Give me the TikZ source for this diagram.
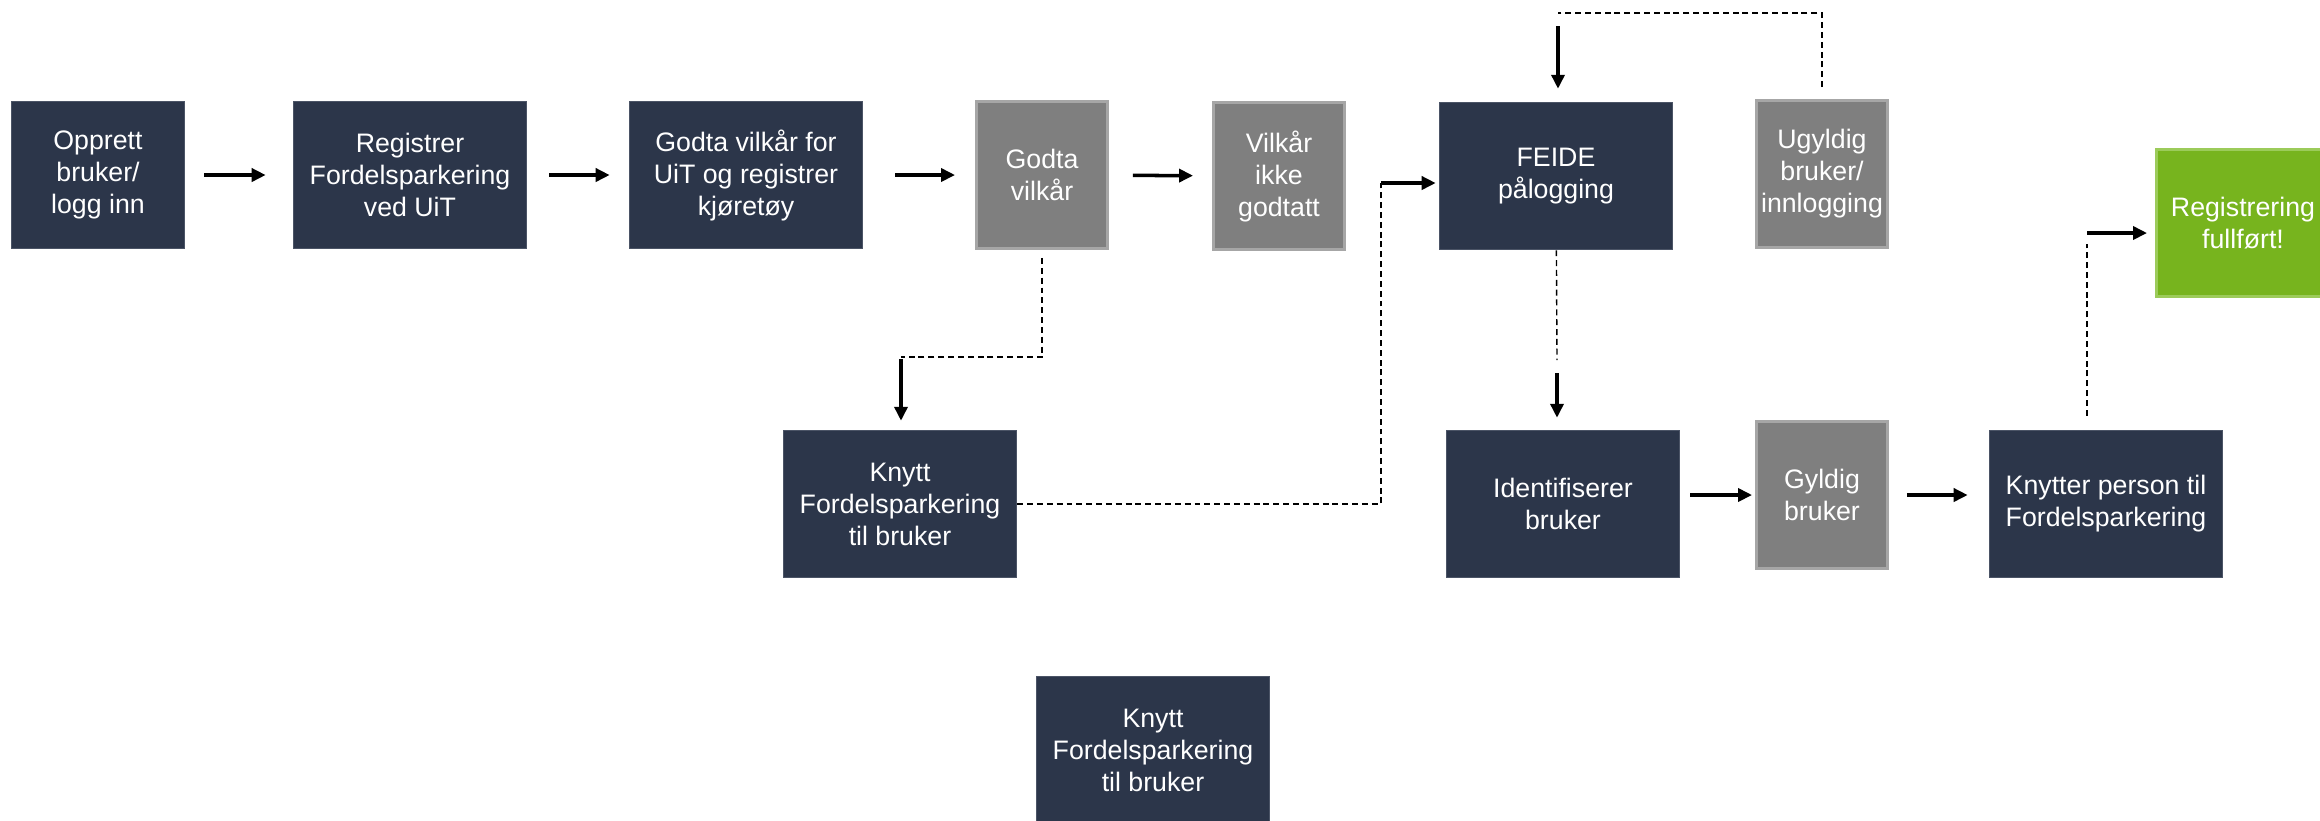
\documentclass[tikz,border=0pt]{standalone}
\usepackage{fontspec}
\setmainfont{Liberation Sans}
\usetikzlibrary{arrows.meta}
\definecolor{navy}{HTML}{2C364A}
\definecolor{navyedge}{HTML}{4B5466}
\definecolor{grey}{HTML}{7F7F7F}
\definecolor{greyedge}{HTML}{A6A6A6}
\definecolor{leaf}{HTML}{77B41E}
\definecolor{leafedge}{HTML}{9CCB5A}
\tikzset{% 
    box/.style={inner sep=0pt,rectangle,fill=navy,draw=navyedge,line width=0.4pt,text=white,align=center,font=\fontsize{7.6}{9.1}\selectfont,minimum width=2.33cm,minimum height=1.47cm},
    gbox/.style={box,fill=grey,draw=greyedge,line width=0.8pt,minimum width=1.31cm},
    okbox/.style={box,fill=leaf,draw=leafedge,line width=0.8pt,minimum width=1.73cm},
    arr/.style={line width=1pt,-{Triangle[length=0.14cm,width=0.13cm]}},
    dline/.style={line width=0.4pt,dash pattern=on 1.7pt off 1.1pt}
}
\begin{document}
\begin{tikzpicture}[x=0.01cm,y=-0.01cm]
        \useasboundingbox (0,0) rectangle (2320,820);
        \node[box,minimum width=1.73cm] (a) at (98,175){Opprett\\bruker/\\logg inn};
        \node[box] (b) at (410,175){Registrer\\Fordelsparkering\\ved UiT};
        \node[box] (c) at (746,175){Godta vilkår for\\UiT og registrer\\kjøretøy};
        \node[gbox] (d) at (1042,175){Godta\\vilkår};
        \node[gbox] (e) at (1279,176){Vilkår\\ikke\\godtatt};
        \node[box] (f) at (1556,176){FEIDE\\pålogging};
        \node[gbox] (g) at (1822,174){Ugyldig\\bruker/\\innlogging};
        \node[okbox] (h) at (2243,223){Registrering\\fullført!};
        \node[box] (i) at (1563,504){Identifiserer\\bruker};
        \node[gbox] (j) at (1822,495){Gyldig\\bruker};
        \node[box] (k) at (2106,504){Knytter person til\\Fordelsparkering};
        \node[box] (l) at (900,504){Knytt\\Fordelsparkering\\til bruker};
        \node[box] (m) at (1153,750){Knytt\\Fordelsparkering\\til bruker};
        \draw[arr,shorten <=0.19cm,shorten >=0.27cm] (a) -- (b);
        \draw[arr,shorten <=0.22cm,shorten >=0.19cm] (b) -- (c);
        \draw[arr,shorten <=0.32cm,shorten >=0.2cm] (c) -- (d);
        \draw[arr,shorten <=0.24cm,shorten >=0.19cm] (d) -- (e);
        \draw[arr,shorten <=0.1cm,shorten >=0.03cm] (i.east |- j) -- (j);
        \draw[arr,shorten <=0.18cm,shorten >=0.21cm] (j) -- (j -| k.west);
        \coordinate (dl) at (901,357);
        \draw[dline,shorten <=0.08cm] (d) |- (dl);
        \draw[arr,shorten <=0.02cm,shorten >=0.09cm] (dl) -- (dl |- l.north);
        \coordinate (lf) at (1381,183);
        \draw[dline] (l) -| (lf);
        \draw[arr,shorten >=0.03cm] (lf) -- (lf -| f.west);
        \coordinate (fi) at (1557,360);
        \draw[dline] (f) -- (fi);
        \draw[arr,shorten <=0.13cm,shorten >=0.12cm] (fi) -- (fi |- i.north);
        \coordinate (gf) at (1558,13);
        \draw[dline,shorten <=0.12cm] (g) |- (gf);
        \draw[arr,shorten <=0.13cm,shorten >=0.13cm] (gf) -- (gf |- f.north);
        \coordinate (kh) at (2087,233);
        \draw[dline,shorten <=0.14cm,shorten >=0.11cm] (kh |- k.north) -- (kh);
        \draw[arr,shorten >=0.08cm] (kh) -- (kh -| h.west);
    \end{tikzpicture}
\end{document}
